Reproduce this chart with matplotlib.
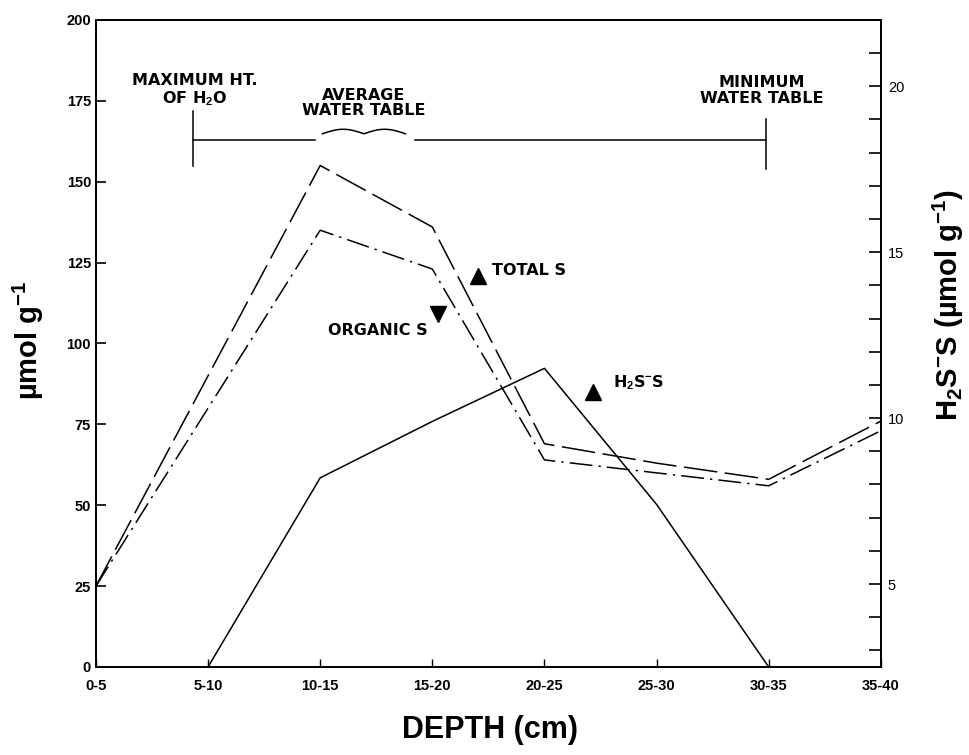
import numpy as np
import matplotlib.pyplot as plt

plt.rcParams['font.family'] = ['DejaVu Sans']
plt.rcParams['mathtext.fontset'] = 'custom'
plt.rcParams['mathtext.bf'] = 'Liberation Sans:bold'
plt.rcParams['mathtext.rm'] = 'Liberation Sans:bold'
plt.rcParams['mathtext.default'] = 'bf'

depth = ["0-5", "5-10", "10-15", "15-20", "20-25", "25-30", "30-35", "35-40"]
total_s = [25, 90, 155, 136, 69, 63, 58, 76]
organic_s = [25, 80, 135, 123, 64, 60, 56, 73]
h2s_depth = [1, 2, 3, 4, 5, 6]
h2s_s = [2.5, 8.2, 9.9, 11.5, 7.4, 2.5]
h2s_ticks = [5, 10, 15, 20]

fig = plt.figure(figsize=(9.69, 7.55), dpi=100)
ax = fig.add_axes([0.099, 0.1166, 0.81, 0.857])
x = np.arange(len(depth))

ax.plot(x, total_s, color='black', lw=1.1, dashes=(22, 5))
ax.plot(x, organic_s, color='black', lw=1.1, dashes=(15, 4, 1.5, 4))

ax.set_xlim(0, 7)
ax.set_ylim(0, 200)
ax.set_xticks(x)
ax.set_xticklabels(depth, fontsize=10.5, fontweight='bold', family='Liberation Sans')
ax.set_yticks(np.arange(0, 201, 25))
ax.tick_params(axis='y', labelsize=10.5, direction='in', length=7, width=1.2)
ax.tick_params(axis='x', direction='in', length=6, width=1.0, pad=9)
for lab in ax.get_yticklabels():
    lab.set_fontweight('bold')
    lab.set_family('Liberation Sans')
for sp in ax.spines.values():
    sp.set_linewidth(1.3)

ax.set_xlabel("DEPTH (cm)", fontsize=22, fontweight='bold', family='Liberation Sans')
ax.xaxis.set_label_coords(0.502, -0.075)
ax.set_ylabel("µmol g$^{-1}$", fontsize=21, fontweight='bold', family='Liberation Sans')
ax.yaxis.set_label_coords(-0.064, 0.505)

ax2 = ax.twinx()
ax2.plot(h2s_depth, h2s_s, color='black', lw=1.1)
ax2.set_ylim(2.5, 22)
ax2.set_yticks(h2s_ticks)
ax2.set_yticks(np.arange(3, 22.5, 1), minor=True)
ax2.tick_params(axis='y', which='both', direction='in', length=9, width=1.2, labelsize=10.5, pad=5)
for lab in ax2.get_yticklabels():
    lab.set_family('Liberation Sans')
ax2.set_ylabel("H$_2$S$^{-}$S (µmol g$^{-1}$)", fontsize=21, fontweight='bold', family='Liberation Sans')
ax2.yaxis.set_label_coords(1.064, 0.56)
for sp in ax2.spines.values():
    sp.set_linewidth(1.3)

# water table markers
ax.plot([0.865, 1.95], [163, 163], color='black', lw=1.1)
ax.plot([2.85, 5.98], [163, 163], color='black', lw=1.1)
ax.plot([0.865, 0.865], [155, 172], color='black', lw=1.1)
ax.plot([5.98, 5.98], [154, 169.5], color='black', lw=1.1)
t = np.linspace(0, 1, 80)
ax.plot(2.02 + 0.74 * t, 164.8 + 1.4 * np.abs(np.sin(2 * np.pi * t)), color='black', lw=1.1)

wt_kw = dict(ha='center', va='top', fontsize=11.5, fontweight='bold', linespacing=1.05)
ax.text(0.88, 183.5, "MAXIMUM HT.\nOF H$_2$O", **wt_kw)
ax.text(2.39, 179, "AVERAGE\nWATER TABLE", **wt_kw)
ax.text(5.94, 183, "MINIMUM\nWATER TABLE", **wt_kw)

# annotations
ax.plot(3.41, 121, marker='^', color='black', ms=12)
ax.text(3.53, 122.5, "TOTAL S", va='center', fontsize=11.5, fontweight='bold')
ax.plot(3.05, 109, marker='v', color='black', ms=12)
ax.text(2.96, 104, "ORGANIC S", ha='right', va='center', fontsize=11.5, fontweight='bold')
ax.plot(4.43, 85, marker='^', color='black', ms=12)
ax.text(4.61, 88, "H$_2$S$^{-}$S", va='center', fontsize=11.5, fontweight='bold')

fig.savefig("out.png", dpi=100)
